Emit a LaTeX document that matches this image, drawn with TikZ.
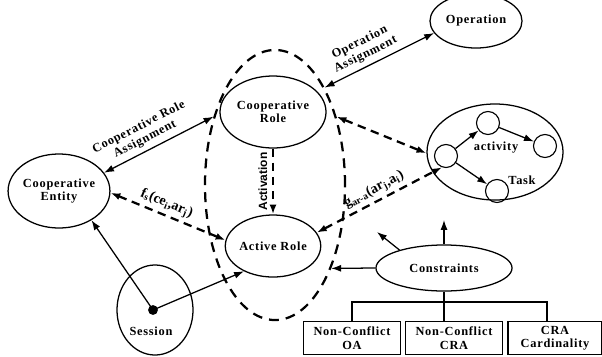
\documentclass[tikz,border=0pt]{standalone}
\usepackage{fontspec}
\setmainfont{Liberation Serif}[LetterSpace=6]
\setsansfont{Liberation Sans}
\newfontfamily\plainserif{Liberation Serif}
\usetikzlibrary{arrows.meta,shapes.geometric}

\tikzset{
  every node/.style={font=\bfseries\fontsize{8.8}{9.6}\selectfont},
  blob/.style={ellipse, draw, line width=0.9pt, inner sep=0pt, align=center},
  act/.style={circle, draw, line width=0.8pt, minimum size=0.575cm, inner sep=0pt},
  crabox/.style={rectangle, draw, line width=0.8pt, minimum width=2.43cm, minimum height=0.82cm, inner sep=0pt, align=center},
  link/.style={line width=0.9pt},
  dlink/.style={line width=1.6pt, dash pattern=on 6pt off 4pt},
  formula/.style={font=\plainserif\bfseries\fontsize{10}{11}\selectfont, inner sep=2pt},
}

\begin{document}
\begin{tikzpicture}[x=0.025cm, y=-0.025cm, >={Latex[length=7pt,width=5pt]}]
  \useasboundingbox (0,0) rectangle (602,356);
  \node[blob, line width=1.6pt, dash pattern=on 7pt off 5pt, minimum width=3.5cm, minimum height=6.75cm] (roles) at (275,185) {};
  \node[blob, minimum width=2.5cm, minimum height=1.85cm] (entity) at (59,191) {Cooperative\\Entity};
  \node[blob, minimum width=2.65cm, minimum height=1.8cm] (crole) at (273,112) {Cooperative\\Role};
  \node[blob, minimum width=2.25cm, minimum height=1.55cm] (arole) at (273,246) {Active Role};
  \node[blob, minimum width=2.3cm, minimum height=1.35cm] (oper) at (476,21) {Operation};
  \node[blob, minimum width=1.9cm, minimum height=2.25cm] (session) at (155,310) {};
  \node (sesstext) at (151,331) {Session};
  \node[blob, minimum width=3.4cm, minimum height=1.15cm] (constr) at (444,268) {Constraints};

  % task
  \node[blob, minimum width=3.4cm, minimum height=2.4cm] (task) at (495,152) {};
  \node[act] (a1) at (446,156) {};
  \node[act] (a2) at (488,123) {};
  \node[act] (a3) at (545,146) {};
  \node[act] (a4) at (497,191) {};
  \node (acttext) at (496,148) {activity};
  \node (tasktext) at (522,180) {Task};
  \draw[link,->] (a1) -- (a2);
  \draw[link,->] (a2) -- (a3);
  \draw[link,->] (a1) -- (a4);

  \draw[link,<->] (entity.22) -- (roles.132)
    node[pos=0.42, sloped, above, align=center] {Cooperative Role\\Assignment};
  \draw[link,<->] (roles.63) -- (oper.196)
    node[pos=0.42, sloped, above, align=center] {Operation\\Assignment};
  \draw[dlink,<->] (entity.-2) -- (arole.173)
    node[pos=0.45, sloped, above, formula] {f\textsubscript{s}(ce\textsubscript{i},ar\textsubscript{j})};
  \draw[dlink,->] (crole.south) -- (arole.north)
    node[midway, rotate=90, above, font=\sffamily\bfseries\fontsize{8.5}{9.5}\selectfont] {Activation};
  \draw[dlink,<->] (roles.48) -- (task.181);
  \draw[dlink,<->] (arole.17) -- (a1.250)
    node[midway, sloped, above, formula] {g\textsubscript{ar-a}(ar\textsubscript{j},a\textsubscript{i})};

  \coordinate (sdot) at (153,310);
  \fill (sdot) circle (3.5pt);
  \draw[link,->] (sdot) -- (entity.-42);
  \draw[link,->] (sdot) -- (arole.221);

  \coordinate (cup) at (444,220);
  \coordinate (cleft) at (377,232);
  \draw[link,->] (constr.west) -- (roles.-56);
  \draw[link,->] (constr.158) -- (cleft);
  \draw[link,->] (constr.north) -- (cup);

  \node[crabox] (oa) at (352,338) {Non-Conflict\\OA};
  \node[crabox] (cra) at (454,338) {Non-Conflict\\CRA};
  \node[crabox, minimum width=2.35cm] (card) at (555,338) {CRA\\Cardinality};
  \coordinate (jl) at (352,302);
  \coordinate (jr) at (547,302);
  \draw[link] (jl |- oa.north) -- (jl) -- (jr) -- (jr |- card.north);
  \draw[link] (constr.south) -- (constr.south |- cra.north);
\end{tikzpicture}
\end{document}
